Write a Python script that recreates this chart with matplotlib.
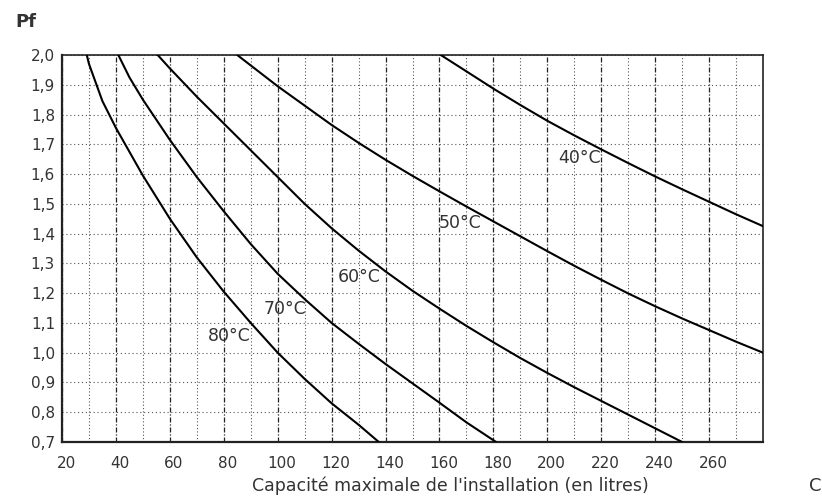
import matplotlib
matplotlib.use("Agg")
import matplotlib.pyplot as plt
import matplotlib.transforms as mtransforms
from matplotlib.ticker import FixedLocator, FuncFormatter

plt.rcParams['font.family'] = ['DejaVu Sans']

# ---- data ----
c_80 = [29.2, 30, 35, 40, 50, 60, 70, 80, 90, 100, 110, 120, 130, 137.5]
p_80 = [2.0, 1.97, 1.845, 1.755, 1.595, 1.45, 1.32, 1.205, 1.10, 1.00, 0.912, 0.83, 0.758, 0.70]

c_70 = [40.9, 45, 50, 60, 70, 80, 90, 100, 110, 120, 130, 140, 150, 160, 170, 181]
p_70 = [2.0, 1.925, 1.85, 1.715, 1.59, 1.475, 1.365, 1.265, 1.18, 1.10, 1.03, 0.962, 0.897, 0.832, 0.766, 0.70]

c_60 = [55.5, 60, 70, 80, 90, 100, 110, 120, 130, 140, 150, 160, 170, 180, 190, 200, 210, 220, 230, 240, 250]
p_60 = [2.0, 1.955, 1.86, 1.77, 1.68, 1.59, 1.50, 1.418, 1.343, 1.273, 1.208, 1.148, 1.09, 1.035, 0.982, 0.932, 0.884, 0.838, 0.792, 0.746, 0.70]

c_50 = [85, 90, 100, 110, 120, 130, 140, 150, 160, 170, 180, 190, 200, 210, 220, 230, 240, 250, 260, 270, 280]
p_50 = [2.0, 1.965, 1.895, 1.83, 1.765, 1.705, 1.648, 1.594, 1.542, 1.491, 1.441, 1.391, 1.341, 1.292, 1.245, 1.199, 1.156, 1.115, 1.076, 1.037, 1.0]

c_40 = [160.5, 170, 180, 190, 200, 210, 220, 230, 240, 250, 260, 270, 280]
p_40 = [2.0, 1.945, 1.887, 1.832, 1.779, 1.73, 1.683, 1.637, 1.592, 1.549, 1.507, 1.465, 1.425]

curve_labels = ['80°C', '70°C', '60°C', '50°C', '40°C']
label_c = [82.2, 102.6, 130.4, 167.8, 211.8]
label_p = [1.055, 1.146, 1.253, 1.437, 1.655]

x_major = [20, 40, 60, 80, 100, 120, 140, 160, 180, 200, 220, 240, 260]
x_minor = [30, 50, 70, 90, 110, 130, 150, 170, 190, 210, 230, 250, 270]
y_ticks = [0.7, 0.8, 0.9, 1.0, 1.1, 1.2, 1.3, 1.4, 1.5, 1.6, 1.7, 1.8, 1.9, 2.0]

x_label = "Capacité maximale de l'installation (en litres)"
y_label = "Pf"
x_unit = "C"

# ---- figure ----
fig = plt.figure(figsize=(8.22, 5.01), dpi=100)
ax = fig.add_axes([62 / 822, 1 - 442 / 501, (763 - 62) / 822, (442 - 55) / 501])

txt = '#333333'

for cs, ps in [(c_80, p_80), (c_70, p_70), (c_60, p_60), (c_50, p_50), (c_40, p_40)]:
    ax.plot(cs, ps, color='black', lw=1.5, solid_joinstyle='round', zorder=3)

for lab, cx, py in zip(curve_labels, label_c, label_p):
    ax.text(cx, py, lab, ha='center', va='center', fontsize=12.5, color=txt, zorder=4)

ax.set_xlim(20, 280)
ax.set_ylim(0.7, 2.0)

ax.xaxis.set_major_locator(FixedLocator(x_major))
ax.xaxis.set_minor_locator(FixedLocator(x_minor))
ax.yaxis.set_major_locator(FixedLocator(y_ticks))
ax.yaxis.set_major_formatter(FuncFormatter(lambda v, p: f"{v:.1f}".replace('.', ',')))

ax.grid(True, which='major', axis='x', color='#222222', lw=0.9, linestyle=(0, (4, 1.5, 1, 1.5)))
ax.grid(True, which='minor', axis='x', color='#555555', lw=0.8, linestyle=(0, (1, 2)))
ax.grid(True, which='major', axis='y', color='#555555', lw=0.8, linestyle=(0, (1, 2.5)))

ax.tick_params(axis='both', which='both', length=0, colors=txt, labelsize=11)
ax.tick_params(axis='x', pad=10)
ax.tick_params(axis='y', pad=5)

shift = mtransforms.ScaledTranslation(4 / 100, 0, fig.dpi_scale_trans)
for lbl in ax.get_xticklabels():
    lbl.set_transform(lbl.get_transform() + shift)

for side, s in ax.spines.items():
    s.set_color('#222222')
    s.set_linewidth(1.6 if side in ('left', 'bottom') else 1.2)

fig.text(450 / 822, 1 - 486 / 501, x_label, ha='center', va='center', fontsize=12.5, color=txt)
fig.text(26 / 822, 1 - 22 / 501, y_label, ha='center', va='center', fontsize=13,
         fontweight='bold', color=txt)
fig.text(815 / 822, 1 - 486 / 501, x_unit, ha='center', va='center', fontsize=13, color=txt)

fig.savefig('out.png', dpi=100)
